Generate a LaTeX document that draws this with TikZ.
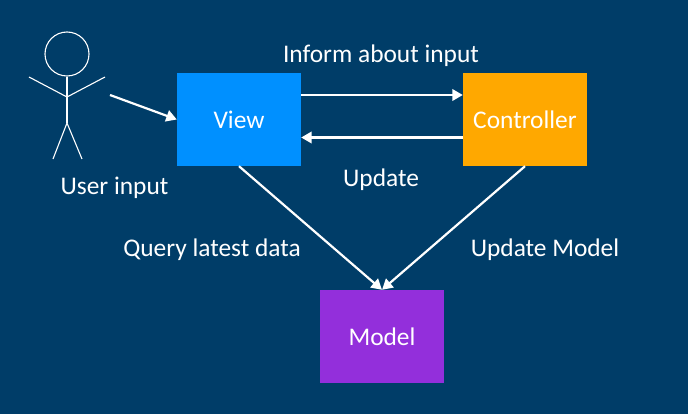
\documentclass[tikz,border=0pt]{standalone}
\usepackage{fontspec}
\setmainfont{Carlito}
\usetikzlibrary{arrows.meta}
\definecolor{slidebg}{HTML}{003D68}
\definecolor{viewblue}{HTML}{0090FF}
\definecolor{ctrlorange}{HTML}{FFA800}
\definecolor{modelpurple}{HTML}{932FDB}
\tikzset{
  block/.style={minimum width=124pt,minimum height=93pt,inner sep=0pt,text=white,font=\fontsize{25.4}{30}\selectfont},
  label/.style={text=white,inner sep=0pt,font=\fontsize{25.4}{30}\selectfont},
  link/.style={draw=white,line width=2.2pt,-{Triangle[length=10.5pt,width=11.5pt]}},
  figure/.style={draw=white,line width=1.1pt}
}
\begin{document}
\begin{tikzpicture}[x=1pt,y=-1pt]
	\useasboundingbox (0,0) rectangle (688,414);
	\fill [slidebg] (0,0) rectangle (688,414);
	\node [block,fill=viewblue] (view) at (239,119.5) {View};
	\node [block,fill=ctrlorange] (controller) at (525,119.5) {Controller};
	\node [block,fill=modelpurple] (model) at (382,336.5) {Model};
	\node [label] (inform) at (381,55.5) {Inform about input};
	\node [label] (update) at (381,180) {Update};
	\node [label] (query) at (212,249.5) {Query latest data};
	\node [label] (updatemodel) at (545,249.5) {Update Model};
	\node [label] (user) at (114.5,187.5) {User input};
	% stick figure
	\node [figure,circle,minimum size=44pt,inner sep=0pt] (head) at (67,54) {};
	\coordinate (hip) at (67,123);
	\coordinate (chest) at (67,97);
	\draw [figure] (head.south) -- (hip);
	\draw [figure] (29,77) -- (chest) -- (105,77);
	\draw [figure] (53,159) -- (hip) -- (82,159);
	% connectors
	\coordinate (start) at (110,95);
	\draw [link] (start) -- (view.west);
	\draw [link] ([yshift=24.5pt]view.east) -- ([yshift=24.5pt]controller.west);
	\draw [link] ([yshift=-18pt]controller.west) -- ([yshift=-18pt]view.east);
	\draw [link] (view.south) -- (model.north);
	\draw [link] (controller.south) -- (model.north);
\end{tikzpicture}
\end{document}
